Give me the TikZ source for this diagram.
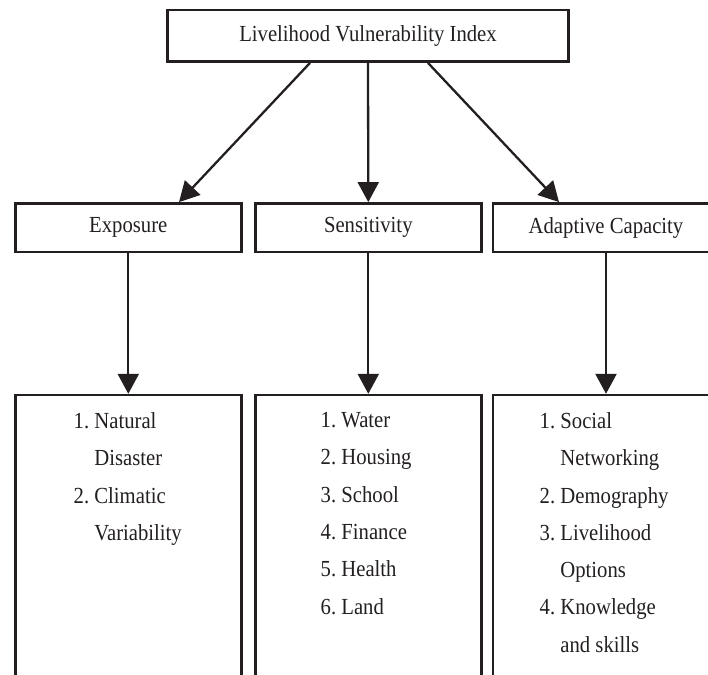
\documentclass[tikz,border=0pt]{standalone}
\usepackage{fontspec}
\setmainfont{Liberation Serif}[FakeStretch=0.9]
\usepackage{tikz}
\usetikzlibrary{arrows.meta, positioning}
\definecolor{inkgray}{RGB}{35,31,32}

\begin{document}
\begin{tikzpicture}[x=1pt, y=-1pt, font=\fontsize{23}{37.3}\selectfont,
  box/.style={draw=inkgray, line width=2.4pt, inner sep=0pt, text=inkgray,
    minimum width=226pt, minimum height=48.4pt},
  listbox/.style={box, minimum height=330pt},
  items/.style={anchor=north west, inner sep=0pt, align=left, text=inkgray},
  arr/.style={draw=inkgray, line width=2.3pt, -{Triangle[length=20pt,width=21pt]}}]
% index, its three components and their indicators
\useasboundingbox (0,0) rectangle (708,674);
\clip (0,0) rectangle (708,674);

\node[box, minimum width=400.8pt, minimum height=51.4pt] (lvi) at (368,36) {Livelihood Vulnerability Index};

\node[box] (exp) at (128.3,227.5) {Exposure};
\node[box] (sens) at (368.3,227.5) {Sensitivity};
\node[box] (adap) at (606,227.5) {Adaptive Capacity};

\node[listbox] (explist) at (128.3,560) {};
\node[listbox] (senslist) at (368.3,560) {};
\node[listbox] (adaplist) at (606,560) {};

\node[items] (expitems) at (73.5,412.3) {1.~Natural\\\phantom{1.~}Disaster\\2.~Climatic\\\phantom{2.~}Variability};
\node[items] (sensitems) at (320.5,412.3) {1.~Water\\2.~Housing\\3.~School\\4.~Finance\\5.~Health\\6.~Land};
\node[items] (adapitems) at (539.5,412.3) {1.~Social\\\phantom{1.~}Networking\\2.~Demography\\3.~Livelihood\\\phantom{3.~}Options\\4.~Knowledge\\\phantom{4.~}and skills};

\draw[arr] ([xshift=-58pt]lvi.south) -- ([xshift=50.7pt]exp.north);
\draw[arr] (lvi.south) -- (sens.north);
\draw[arr] ([xshift=60pt]lvi.south) -- ([xshift=-47pt]adap.north);

\draw[arr] (exp) -- (explist);
\draw[arr] (sens) -- (senslist);
\draw[arr] (adap) -- (adaplist);
\end{tikzpicture}
\end{document}
